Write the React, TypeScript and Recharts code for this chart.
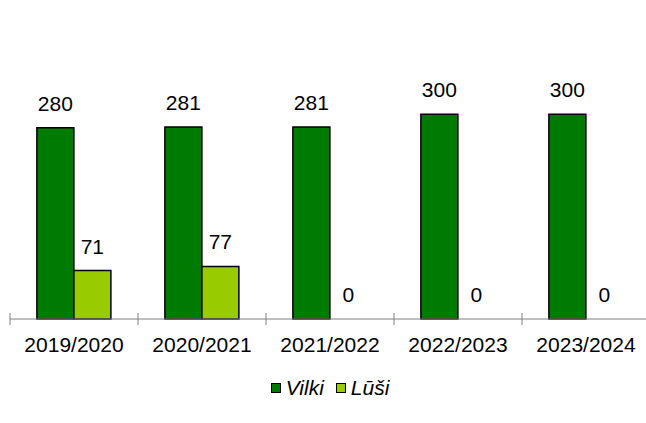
import React from 'react'
import { BarChart, Bar, XAxis, YAxis, Legend, LabelList, Cell } from 'recharts'

const seasons = ['2019/2020', '2020/2021', '2021/2022', '2022/2023', '2023/2024']
const wolves = [280, 281, 281, 300, 300]
const lynxes = [71, 77, 0, 0, 0]

const data = seasons.map((season, i) => ({ season, vilki: wolves[i], lusi: lynxes[i] }))

const FONT = '"Liberation Sans", Arial, sans-serif'

// tick label at the centre, tick mark at the left edge of the category
const SeasonTick = (props: any) => {
  const { x, y, payload } = props
  const half = 64
  return (
    <g>
      <line x1={x - half} x2={x - half} y1={y - 6} y2={y + 6} stroke="#808080" />
      <text x={x} y={y + 33} textAnchor="middle" fontSize={21} fontFamily={FONT} fill="#000">
        {payload.value}
      </text>
    </g>
  )
}

const box = (color: string) => ({ width: 8, height: 8, background: color, border: '1.5px solid #000', marginRight: 5 })

const LegendBox = () => (
  <div style={{ display: 'flex', justifyContent: 'center', alignItems: 'center', fontFamily: FONT, fontSize: 21, fontStyle: 'italic', marginTop: 7 }}>
    <span style={box('#007A00')} />
    <span style={{ marginRight: 12 }}>Vilki</span>
    <span style={box('#99CC00')} />
    <span>Lūši</span>
  </div>
)

export default function App() {
  return (
    <div style={{ position: 'absolute', left: 0, top: 0, width: 646, height: 423, overflow: 'hidden', background: '#fff' }}>
      <BarChart width={660} height={423} data={data} margin={{ top: 80, right: 10, left: 10, bottom: 0 }} barCategoryGap="21%" barGap={0}>
        <XAxis dataKey="season" height={50} tickLine={false} tickSize={0} tickMargin={0} axisLine={{ stroke: '#808080' }} tick={<SeasonTick />} interval={0} />
        <YAxis hide domain={[0, 350]} />
        <Legend verticalAlign="bottom" wrapperStyle={{ height: 54 }} content={<LegendBox />} />
        <Bar dataKey="vilki" name="Vilki" fill="#007A00" stroke="#000" strokeWidth={1.5} isAnimationActive={false}>
          <LabelList dataKey="vilki" position="top" offset={17} fontSize={21} fontFamily={FONT} fill="#000" />
        </Bar>
        <Bar dataKey="lusi" name="Lūši" fill="#99CC00" stroke="#000" strokeWidth={1.5} minPointSize={(v: number) => (v === 0 ? 0.01 : 0)} isAnimationActive={false}>
          {lynxes.map((v, i) => (
            <Cell key={i} stroke={v === 0 ? 'none' : '#000'} />
          ))}
          <LabelList dataKey="lusi" position="top" offset={17} fontSize={21} fontFamily={FONT} fill="#000" />
        </Bar>
      </BarChart>
    </div>
  )
}
